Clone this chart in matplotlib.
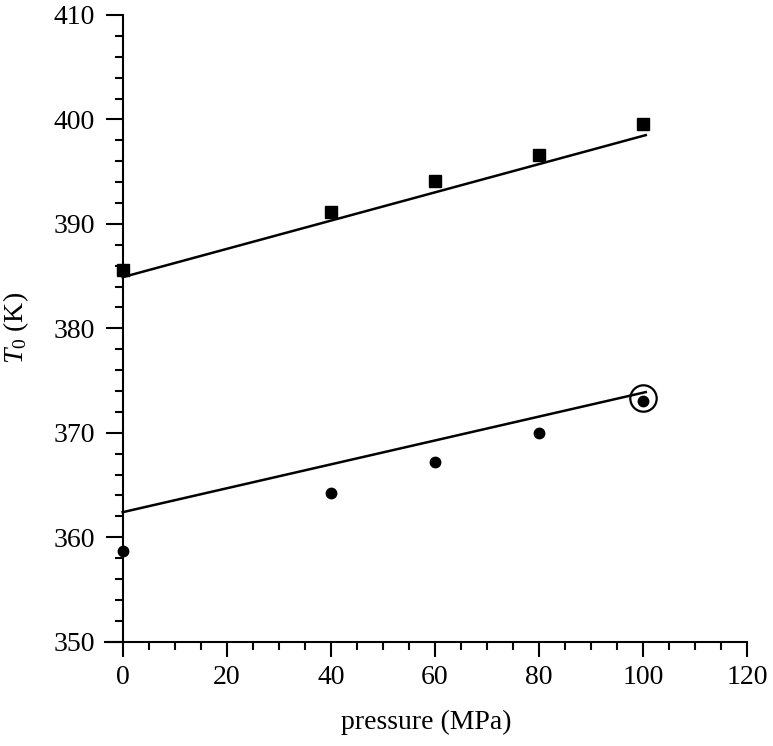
import numpy as np
import matplotlib
matplotlib.use('Agg')
import matplotlib.pyplot as plt
from matplotlib.ticker import MultipleLocator

plt.rcParams['font.family'] = ['Liberation Serif', 'DejaVu Serif']
plt.rcParams['mathtext.fontset'] = 'custom'
plt.rcParams['mathtext.rm'] = 'Liberation Serif'
plt.rcParams['mathtext.it'] = 'Liberation Serif:italic'

# data
pressure = [0, 40, 60, 80, 100]
t0_squares = [385.6, 391.1, 394.1, 396.6, 399.6]
t0_circles = [358.7, 364.2, 367.2, 370.0, 373.0]

fit_x = [0, 100.5]
fit_upper = [384.9, 398.5]
fit_lower = [362.4, 373.9]

highlight = (100, 373.3)

fig = plt.figure(figsize=(7.73, 7.46), dpi=100)
ax = fig.add_axes([0.1358, 0.1398, 0.9667 - 0.1358, 0.9799 - 0.1398])

ax.plot(fit_x, fit_upper, color='black', lw=1.8)
ax.plot(fit_x, fit_lower, color='black', lw=1.8)
ax.plot(pressure, t0_squares, 's', color='black', ms=8.5, clip_on=False)
ax.plot(pressure, t0_circles, 'o', color='black', ms=7.5, clip_on=False)
ax.plot([highlight[0]], [highlight[1]], 'o', mfc='none', mec='black',
        ms=19, mew=1.6, clip_on=False)

ax.set_xlim(-3.4, 120)
ax.set_ylim(350, 410)

ax.spines['top'].set_visible(False)
ax.spines['right'].set_visible(False)
ax.spines['left'].set_position(('data', 0))
for s in ('left', 'bottom'):
    ax.spines[s].set_linewidth(1.5)

ax.xaxis.set_major_locator(MultipleLocator(20))
ax.xaxis.set_minor_locator(MultipleLocator(5))
ax.yaxis.set_major_locator(MultipleLocator(10))
ax.yaxis.set_minor_locator(MultipleLocator(2))

ax.tick_params(axis='both', which='major', direction='out', width=1.5,
               labelsize=20)
ax.tick_params(axis='x', which='major', length=11, pad=6)
ax.tick_params(axis='y', which='major', length=12, pad=8)
ax.tick_params(axis='both', which='minor', direction='out', width=1.5,
               length=5.5)

ax.set_xlabel('pressure (MPa)', fontsize=20, labelpad=14)
ax.set_ylabel(r'$T_0$ (K)', fontsize=20)
ax.yaxis.set_label_coords(-0.115, 0.5)

fig.savefig('out.png', dpi=100)
